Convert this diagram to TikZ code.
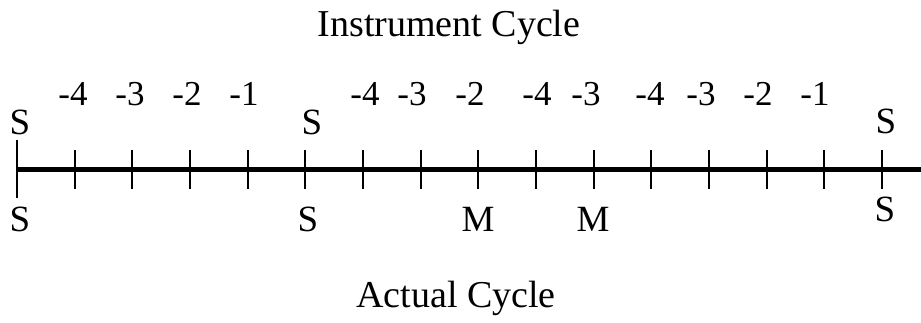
\documentclass[tikz,border=0pt]{standalone}
\usepackage{fontspec}
\setmainfont{Liberation Serif}
\begin{document}
\begin{tikzpicture}[x=1pt,y=1pt,
  axisline/.style={line width=5pt},
  tickline/.style={line width=1.8pt},
  letterlab/.style={anchor=base,inner sep=0pt,font=\fontsize{37}{42}\selectfont},
  digitlab/.style={anchor=base,inner sep=0pt,font=\fontsize{35}{40}\selectfont},
  titlelab/.style={anchor=base,inner sep=0pt,font=\fontsize{38}{43}\selectfont}]
\useasboundingbox (0,0) rectangle (921,323);
% axis
\coordinate (L) at (17,153);
\coordinate (R) at (921,153);
\draw[axisline] (L) -- (R);
% ticks
\foreach \i in {0,...,15}{
  \pgfmathsetmacro{\tx}{17+57.67*\i}
  \coordinate (t\i) at (\tx,153);
}
\draw[tickline] ([yshift=30]t0) -- ([yshift=-28]t0);
\foreach \i in {1,...,15}{
  \draw[tickline] ([yshift=20]t\i) -- ([yshift=-19]t\i);
}
% titles
\node[titlelab] (inst) at (449,286) {Instrument Cycle};
\node[titlelab] (act) at (456,15) {Actual Cycle};
% top S
\node[letterlab] (sa) at (20,188) {S};
\node[letterlab] (sb) at (312,188) {S};
\node[letterlab] (sc) at (886,189) {S};
% bottom S / M
\node[letterlab] (ba) at (20,91) {S};
\node[letterlab] (bb) at (308,91) {S};
\node[letterlab] (bm1) at (478,91) {M};
\node[letterlab] (bm2) at (593,91) {M};
\node[letterlab] (bc) at (885,101) {S};
% digit labels
\node[digitlab] (d1) at (73,217) {-4};
\node[digitlab] (d2) at (130,217) {-3};
\node[digitlab] (d3) at (187,217) {-2};
\node[digitlab] (d4) at (244,217) {-1};
\node[digitlab] (d5) at (365,217) {-4};
\node[digitlab] (d6) at (412,217) {-3};
\node[digitlab] (d7) at (470,217) {-2};
\node[digitlab] (d8) at (537,217) {-4};
\node[digitlab] (d9) at (586,217) {-3};
\node[digitlab] (d10) at (650,217) {-4};
\node[digitlab] (d11) at (701,217) {-3};
\node[digitlab] (d12) at (758,217) {-2};
\node[digitlab] (d13) at (815,217) {-1};
\end{tikzpicture}
\end{document}
